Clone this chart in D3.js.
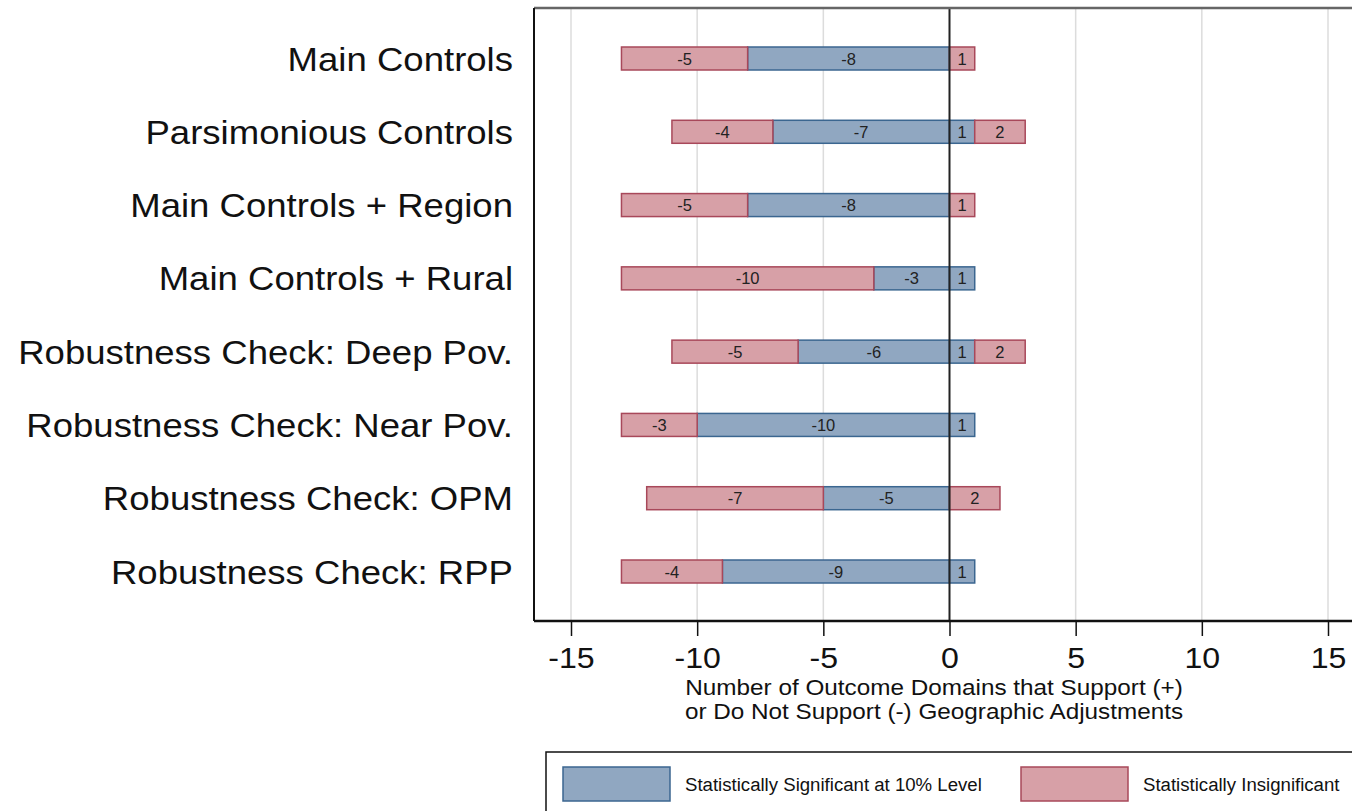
<!DOCTYPE html>
<html>
<head>
<meta charset="utf-8">
<script src="https://cdn.jsdelivr.net/npm/d3@7"></script>
<style>
  body { margin: 0; background: #fff; }
  text { font-family: "Liberation Sans", Arial, Helvetica, sans-serif; }
</style>
</head>
<body>
<svg width="1352" height="811"></svg>
<script>
const categories = [
    "Main Controls", "Parsimonious Controls", "Main Controls + Region", "Main Controls + Rural",
    "Robustness Check: Deep Pov.", "Robustness Check: Near Pov.", "Robustness Check: OPM", "Robustness Check: RPP"
];
// negative side: significant (next to zero), then insignificant
const sigNeg = [-8, -7, -8, -3, -6, -10, -5, -9];
const insigNeg = [-5, -4, -5, -10, -5, -3, -7, -4];
// positive side: significant (next to zero), then insignificant
const sigPos = [0, 1, 0, 1, 1, 1, 0, 1];
const insigPos = [1, 2, 1, 0, 2, 0, 2, 0];
const xTicks = [-15, -10, -5, 0, 5, 10, 15];
const axisTitle = ["Number of Outcome Domains that Support (+)", "or Do Not Support (-) Geographic Adjustments"];
const legendLabels = ["Statistically Significant at 10% Level", "Statistically Insignificant"];

const blueFill = "#90a7c1", blueStroke = "#3b6690";
const pinkFill = "#d7a0a7", pinkStroke = "#a8485a";

const svg = d3.select("svg");
const plotLeft = 534, plotRight = 1380, plotTop = 8, plotBottom = 621;

const x = d3.scaleLinear().domain([-15, 15]).range([571, 1328]);
const y = d3.scalePoint().domain(categories).range([58.5, 571.5]);
const barH = 23;

// gridlines
svg.append("g")
    .selectAll("line")
    .data(xTicks.filter(d => d !== 0))
    .join("line")
    .attr("x1", d => x(d)).attr("x2", d => x(d))
    .attr("y1", plotTop).attr("y2", plotBottom)
    .attr("stroke", "#dcdcdc")
    .attr("stroke-width", 1.5);

// build segments
let segs = [];
categories.forEach((c, i) => {
    segs.push({cat: c, x0: sigNeg[i], x1: 0, v: sigNeg[i], sig: true});
    segs.push({cat: c, x0: sigNeg[i] + insigNeg[i], x1: sigNeg[i], v: insigNeg[i], sig: false});
    if (sigPos[i] !== 0) segs.push({cat: c, x0: 0, x1: sigPos[i], v: sigPos[i], sig: true});
    if (insigPos[i] !== 0) segs.push({cat: c, x0: sigPos[i], x1: sigPos[i] + insigPos[i], v: insigPos[i], sig: false});
});

let bars = svg.append("g");
bars.selectAll("rect")
    .data(segs)
    .join("rect")
    .attr("x", d => x(d.x0))
    .attr("y", d => y(d.cat) - barH / 2)
    .attr("width", d => x(d.x1) - x(d.x0))
    .attr("height", barH)
    .attr("fill", d => d.sig ? blueFill : pinkFill)
    .attr("stroke", d => d.sig ? blueStroke : pinkStroke)
    .attr("stroke-width", 1.5);
bars.selectAll("text")
    .data(segs)
    .join("text")
    .attr("x", d => (x(d.x0) + x(d.x1)) / 2)
    .attr("y", d => y(d.cat) + 6)
    .attr("text-anchor", "middle")
    .attr("font-size", 16.5)
    .attr("fill", "#222")
    .text(d => d.v);

// zero line
svg.append("line")
    .attr("x1", x(0)).attr("x2", x(0))
    .attr("y1", plotTop).attr("y2", plotBottom)
    .attr("stroke", "#222")
    .attr("stroke-width", 2);

// frame
svg.append("line")
    .attr("x1", plotLeft).attr("x2", plotRight)
    .attr("y1", plotTop).attr("y2", plotTop)
    .attr("stroke", "#666").attr("stroke-width", 2.5);
svg.append("line")
    .attr("x1", plotLeft).attr("x2", plotLeft)
    .attr("y1", plotTop).attr("y2", plotBottom)
    .attr("stroke", "#111").attr("stroke-width", 2);

// x axis
let xAxis = svg.append("g")
    .attr("transform", "translate(0," + plotBottom + ")")
    .call(d3.axisBottom(x).tickValues(xTicks).tickSize(15).tickFormat(d => String(d)));
xAxis.select(".domain").remove();
xAxis.append("line")
    .attr("x1", plotLeft).attr("x2", plotRight)
    .attr("stroke", "#111").attr("stroke-width", 2.5);
xAxis.selectAll(".tick line").attr("stroke", "#111").attr("stroke-width", 1.5);
xAxis.selectAll(".tick text")
    .attr("y", 0).attr("dy", null)
    .attr("transform", "translate(0,47) scale(1.07,1)")
    .attr("font-size", 30)
    .attr("font-family", "Liberation Sans, Arial, sans-serif")
    .attr("fill", "#111");

svg.append("g")
    .selectAll("text")
    .data(axisTitle)
    .join("text")
    .attr("transform", (d, i) => "translate(934," + (695 + i * 24) + ") scale(1.13,1)")
    .attr("text-anchor", "middle")
    .attr("font-size", 21.5)
    .attr("fill", "#111")
    .text(d => d);

// category labels
svg.append("g")
    .selectAll("text")
    .data(categories)
    .join("text")
    .attr("transform", d => "translate(513," + (y(d) + 12) + ") scale(1.075,1)")
    .attr("text-anchor", "end")
    .attr("font-size", 34)
    .attr("fill", "#111")
    .text(d => d);

// legend
let legend = svg.append("g");
legend.append("rect")
    .attr("x", 546).attr("y", 752)
    .attr("width", 840).attr("height", 80)
    .attr("fill", "#fff")
    .attr("stroke", "#111")
    .attr("stroke-width", 1.5);
const legendX = [563, 1021];
legend.selectAll(".sw")
    .data(legendLabels)
    .join("rect")
    .attr("class", "sw")
    .attr("x", (d, i) => legendX[i])
    .attr("y", 767)
    .attr("width", 107)
    .attr("height", 34)
    .attr("fill", (d, i) => i === 0 ? blueFill : pinkFill)
    .attr("stroke", (d, i) => i === 0 ? blueStroke : pinkStroke)
    .attr("stroke-width", 1.5);
legend.selectAll(".lt")
    .data(legendLabels)
    .join("text")
    .attr("class", "lt")
    .attr("transform", (d, i) => "translate(" + (legendX[i] + 122) + ",791) scale(0.98,1)")
    .attr("font-size", 19)
    .attr("fill", "#111")
    .text(d => d);
</script>
</body>
</html>
